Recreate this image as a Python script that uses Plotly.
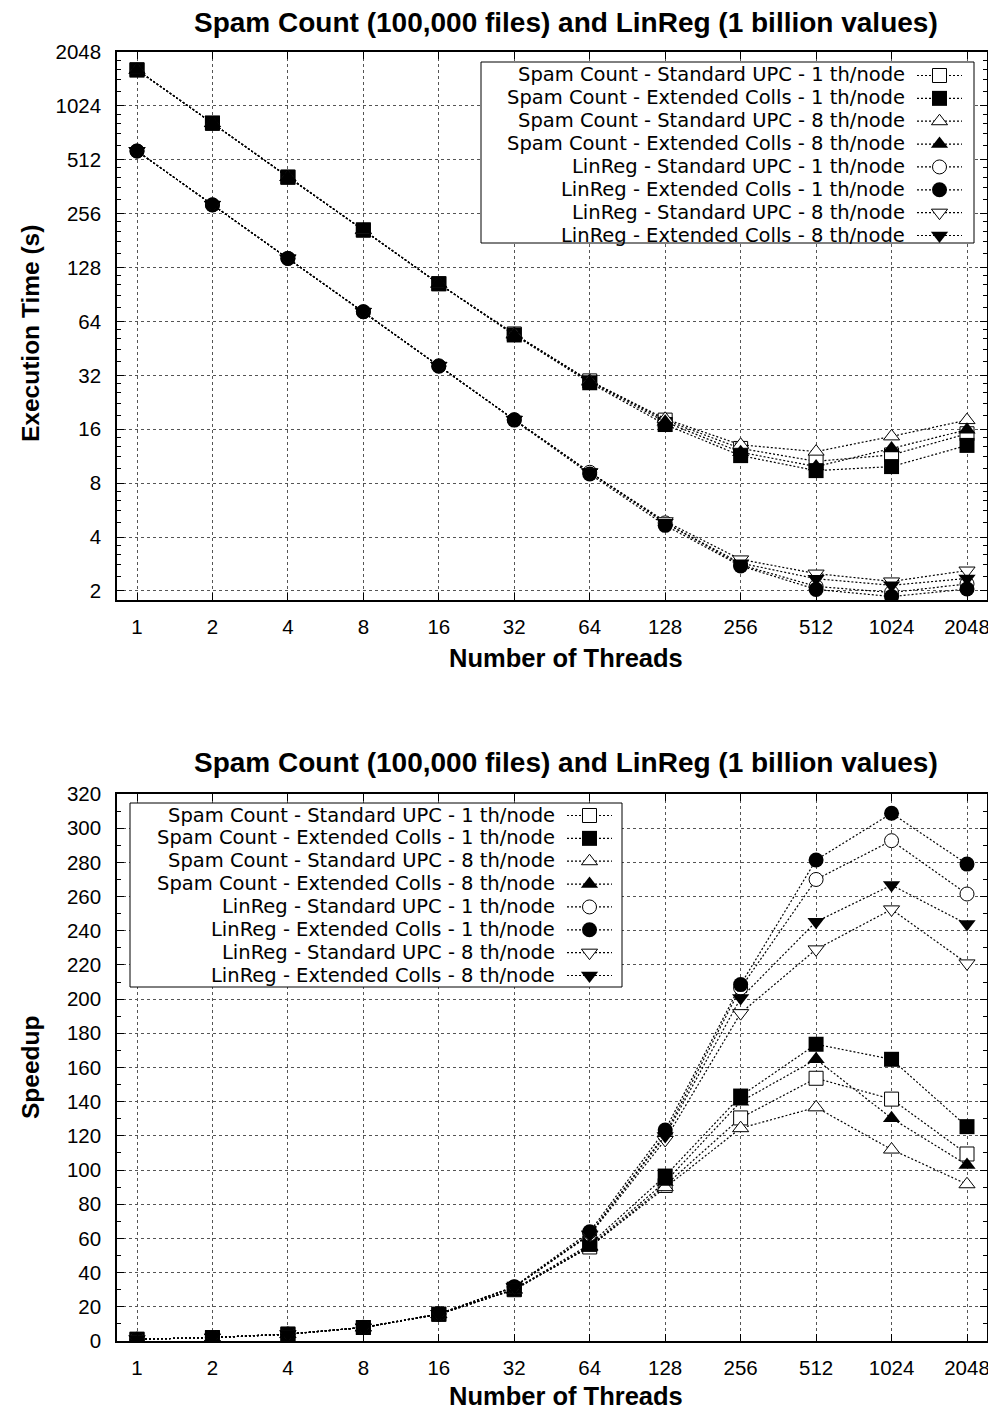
import math
import plotly.graph_objects as go

# ---------------- data ----------------
threads = [1, 2, 4, 8, 16, 32, 64, 128, 256, 512, 1024, 2048]
tick_labels = [str(t) for t in threads]

series_names = [
    "Spam Count - Standard UPC - 1 th/node",
    "Spam Count - Extended Colls - 1 th/node",
    "Spam Count - Standard UPC - 8 th/node",
    "Spam Count - Extended Colls - 8 th/node",
    "LinReg - Standard UPC - 1 th/node",
    "LinReg - Extended Colls - 1 th/node",
    "LinReg - Standard UPC - 8 th/node",
    "LinReg - Extended Colls - 8 th/node",
]

# Execution time (s)
spam_std1_time = [1630, 818, 410, 207, 104, 54.5, 29.8, 18.0, 12.5, 10.6, 11.5, 15.1]
spam_ext1_time = [1625, 822, 409, 208, 104, 53.8, 29.1, 17.0, 11.4, 9.4, 9.9, 13.0]
spam_std8_time = [1630, 820, 410, 207, 104, 54.5, 29.8, 18.3, 13.1, 12.0, 14.6, 18.0]
spam_ext8_time = [1625, 820, 409, 208, 104, 54.0, 29.5, 17.6, 11.9, 9.9, 12.5, 15.9]
lin_std1_time = [573, 287, 144, 72.5, 36.2, 18.1, 9.2, 4.8, 2.8, 2.12, 1.96, 2.19]
lin_ext1_time = [573, 286, 144, 72.5, 36.0, 18.0, 9.0, 4.65, 2.76, 2.04, 1.86, 2.05]
lin_std8_time = [573, 287, 144, 72.5, 36.2, 18.1, 9.2, 4.9, 3.0, 2.5, 2.26, 2.6]
lin_ext8_time = [573, 287, 144, 72.5, 36.2, 18.1, 9.2, 4.8, 2.86, 2.34, 2.15, 2.35]

# Speedup
spam_std1_speedup = [1, 2, 4, 7.9, 15.6, 30, 55, 91, 130.5, 153.7, 141.5, 109.4]
spam_ext1_speedup = [1, 2, 4, 7.9, 15.7, 30.3, 56.5, 96.5, 143.3, 173.6, 164.8, 125.4]
spam_std8_speedup = [1, 2, 4, 7.9, 15.6, 30, 55, 90, 124.5, 136.7, 112, 91.7]
spam_ext8_speedup = [1, 2, 4, 7.9, 15.6, 30.2, 55.5, 93, 140, 164.8, 130.3, 103]
lin_std1_speedup = [1, 2, 4, 7.9, 15.8, 31.6, 62.5, 121, 206.5, 270, 292.7, 261.5]
lin_ext1_speedup = [1, 2, 4, 8, 15.9, 31.8, 63.9, 123.4, 208.5, 281.4, 308.7, 279]
lin_std8_speedup = [1, 2, 4, 7.9, 15.8, 31.5, 62, 117.6, 191.8, 229.1, 252.5, 220.9]
lin_ext8_speedup = [1, 2, 4, 7.9, 15.8, 31.6, 62.5, 120, 200.6, 245.3, 266.7, 243.9]

time_ticks = [2, 4, 8, 16, 32, 64, 128, 256, 512, 1024, 2048]
time_minor_ticks = [t * f for t in [1] + time_ticks[:-1] for f in (1.2, 1.4, 1.6, 1.8)]
speedup_ticks = list(range(0, 321, 20))

title_text = "Spam Count (100,000 files) and LinReg (1 billion values)"

times = [spam_std1_time, spam_ext1_time, spam_std8_time, spam_ext8_time,
         lin_std1_time, lin_ext1_time, lin_std8_time, lin_ext8_time]
speedups = [spam_std1_speedup, spam_ext1_speedup, spam_std8_speedup, spam_ext8_speedup,
            lin_std1_speedup, lin_ext1_speedup, lin_std8_speedup, lin_ext8_speedup]

# ---------------- style ----------------
symbols = ["square", "square", "triangle-up", "triangle-up",
           "circle", "circle", "triangle-down", "triangle-down"]
filled = [False, True, False, True, False, True, False, True]
FONT = "Liberation Sans, Arial, Helvetica, sans-serif"
LEGFONT = "DejaVu Sans, Liberation Sans, sans-serif"

OFF = 8                      # page body margin of the html page
W, H = 996 - OFF, 1414 - OFF
ML, MT = 117 - OFF, 52 - OFF
MR = W - (987 - OFF)
MB = H - (1341 - OFF)
PW, PH = W - ML - MR, H - MT - MB
ROW = 22.86


def px_x(px):
    """reference-screen x pixel -> paper coordinate"""
    return (px - OFF - ML) / PW


def px_y(py):
    """reference-screen y pixel -> paper coordinate"""
    return (H - MB - (py - OFF)) / PH


top_dom = [px_y(600), 1.0]
bot_dom = [0.0, px_y(794)]

fig = go.Figure()


def marker_style(i):
    if filled[i]:
        return dict(symbol=symbols[i], size=15, color="black", line=dict(width=0))
    return dict(symbol=symbols[i], size=14, color="white", line=dict(color="black", width=1))


for i in range(8):
    fig.add_trace(go.Scatter(
        x=threads, y=times[i], name=series_names[i], mode="lines+markers",
        xaxis="x", yaxis="y", legend="legend", legendgroup="top%d" % i,
        line=dict(color="black", width=1.2, dash="2px,2px"),
        marker=marker_style(i)))
for i in range(8):
    fig.add_trace(go.Scatter(
        x=threads, y=speedups[i], name=series_names[i], mode="lines+markers",
        xaxis="x2", yaxis="y2", legend="legend2", legendgroup="bot%d" % i,
        line=dict(color="black", width=1.2, dash="2px,2px"),
        marker=marker_style(i)))

xr = [math.log10(2 ** -0.265), math.log10(2 ** 11.265)]
axis_common = dict(showline=True, linecolor="black", linewidth=1.5, mirror="ticks",
                   ticks="inside", ticklen=7, tickcolor="black",
                   showgrid=True, gridcolor="#555555", gridwidth=1, griddash="dot",
                   zeroline=False, tickfont=dict(family=FONT, size=20.5, color="black"))

legend_common = dict(xanchor="left", yanchor="top", bgcolor="rgba(0,0,0,0)", borderwidth=0,
                     itemwidth=45, tracegroupgap=ROW - 19, itemclick=False, itemdoubleclick=False,
                     font=dict(size=1, color="rgba(0,0,0,0)", family=FONT))

fig.update_layout(
    width=W, height=H,
    margin=dict(l=ML, r=MR, t=MT, b=MB, autoexpand=False),
    paper_bgcolor="white", plot_bgcolor="white",
    font=dict(family=FONT, color="black"),
    xaxis=dict(domain=[0, 1], anchor="y", type="log", range=xr,
               tickvals=threads, ticktext=tick_labels, ticklabelstandoff=8, **axis_common),
    yaxis=dict(domain=top_dom, anchor="x", type="log",
               range=[math.log10(1.78), math.log10(2048)],
               tickvals=time_ticks, ticktext=[str(v) for v in time_ticks],
               ticklabelstandoff=10,
               minor=dict(tickmode="array", tickvals=time_minor_ticks, ticks="inside",
                          ticklen=4, tickcolor="black", showgrid=False),
               **axis_common),
    xaxis2=dict(domain=[0, 1], anchor="y2", type="log", range=xr,
                tickvals=threads, ticktext=tick_labels, ticklabelstandoff=8, **axis_common),
    yaxis2=dict(domain=bot_dom, anchor="x2", range=[0, 320],
                tickvals=speedup_ticks, ticklabelstandoff=10,
                minor=dict(dtick=10, ticks="inside", ticklen=4, tickcolor="black", showgrid=False),
                **axis_common),
    showlegend=True,
    legend=dict(x=px_x(912), y=px_y(61), **legend_common),
    legend2=dict(x=px_x(562), y=px_y(801), **legend_common),
)

# legend boxes
fig.add_shape(type="rect", xref="paper", yref="paper",
              x0=px_x(481), x1=px_x(974), y0=px_y(243), y1=px_y(62),
              fillcolor="white", line=dict(color="black", width=1), layer="above")
fig.add_shape(type="rect", xref="paper", yref="paper",
              x0=px_x(130), x1=px_x(622), y0=px_y(987), y1=px_y(803),
              fillcolor="white", line=dict(color="black", width=1), layer="above")

ann = []
# titles
for py in (22, 762):
    ann.append(dict(text=title_text, x=px_x(566), y=px_y(py), xref="paper", yref="paper",
                    xanchor="center", yanchor="middle", showarrow=False,
                    font=dict(family=FONT, size=28, weight="bold", color="black")))
for py in (658, 1396):
    ann.append(dict(text="Number of Threads", x=px_x(566), y=px_y(py), xref="paper", yref="paper",
                    xanchor="center", yanchor="middle", showarrow=False,
                    font=dict(family=FONT, size=25.5, weight="bold", color="black")))
ann.append(dict(text="Execution Time (s)", x=px_x(30), y=px_y(334), xref="paper", yref="paper",
                xanchor="center", yanchor="middle", showarrow=False, textangle=-90,
                font=dict(family=FONT, size=24.5, weight="bold", color="black")))
ann.append(dict(text="Speedup", x=px_x(30), y=px_y(1068), xref="paper", yref="paper",
                xanchor="center", yanchor="middle", showarrow=False, textangle=-90,
                font=dict(family=FONT, size=24.5, weight="bold", color="black")))
# legend labels
for i, name in enumerate(series_names):
    ann.append(dict(text=name, x=px_x(906), y=px_y(75 + ROW * i), xref="paper", yref="paper",
                    xanchor="right", yanchor="middle", showarrow=False, borderpad=0,
                    font=dict(family=LEGFONT, size=19.5, color="black")))
    ann.append(dict(text=name, x=px_x(556), y=px_y(815 + ROW * i), xref="paper", yref="paper",
                    xanchor="right", yanchor="middle", showarrow=False, borderpad=0,
                    font=dict(family=LEGFONT, size=19.5, color="black")))
fig.update_layout(annotations=ann)

fig.write_html("out.html")
